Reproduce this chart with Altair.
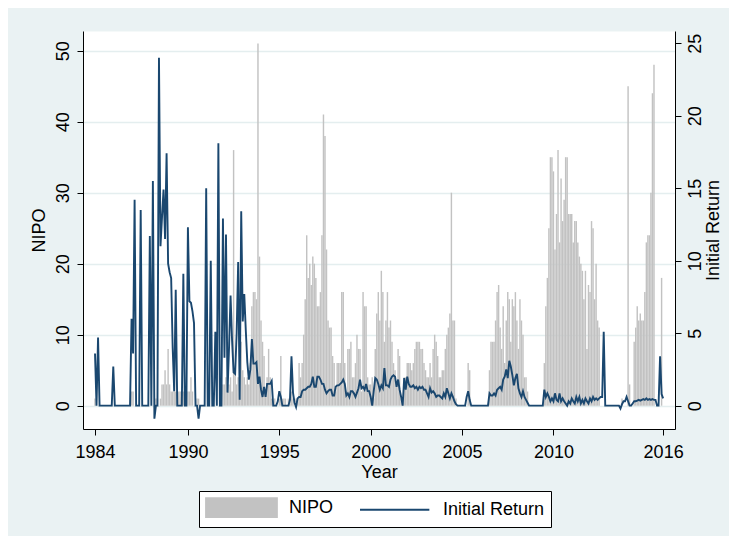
import altair as alt
import pandas as pd

FONT = "Liberation Sans, Arial, sans-serif"

# Monthly series, first value = Dec 1984, last value = Jan 2016
nipo = [
    1, 0, 0, 0, 0, 0, 0, 0, 0, 0, 0, 0,
    0, 0, 0, 0, 0, 0, 0, 0, 0, 0, 0, 0,
    2, 2, 0, 0, 0, 0, 0, 0, 0, 0, 0, 0,
    0, 0, 0, 0, 1, 1, 0, 1, 3, 3, 5, 3,
    8, 3, 2, 2, 3, 2, 2, 2, 2, 2, 2, 2,
    2, 2, 2, 4, 2, 0, 0, 1, 1, 0, 0, 0,
    0, 0, 0, 0, 0, 0, 0, 0, 0, 0, 1, 2,
    3, 3, 4, 3, 3, 4, 2, 36, 5, 3, 4, 1,
    9, 5, 4, 3, 4, 3, 6, 14, 16, 16, 15, 51,
    21, 12, 9, 7, 2, 4, 8, 4, 1, 0, 1, 0,
    0, 1, 7, 1, 1, 1, 0, 1, 1, 2, 1, 0,
    1, 1, 6, 4, 6, 10, 15, 24, 18, 20, 17, 21,
    20, 18, 14, 14, 16, 24, 41, 38, 22, 12, 11, 11,
    7, 6, 2, 6, 6, 6, 16, 16, 6, 2, 8, 8,
    9, 4, 4, 6, 10, 8, 8, 2, 16, 14, 14, 4,
    3, 3, 4, 1, 8, 13, 16, 12, 19, 16, 9, 12,
    16, 11, 12, 9, 6, 5, 3, 8, 7, 1, 1, 4,
    4, 6, 6, 6, 5, 6, 8, 9, 9, 9, 8, 8,
    6, 5, 4, 4, 6, 4, 8, 10, 9, 7, 4, 4,
    5, 5, 8, 10, 11, 13, 30, 12, 12, 1, 0, 0,
    0, 0, 0, 0, 0, 6, 5, 0, 0, 0, 0, 0,
    0, 0, 0, 0, 0, 0, 0, 5, 9, 9, 9, 12,
    16, 17, 11, 8, 14, 6, 12, 16, 15, 9, 15, 14,
    16, 12, 8, 15, 12, 10, 4, 4, 2, 0, 0, 0,
    0, 0, 0, 0, 0, 0, 0, 6, 14, 18, 25, 35,
    35, 33, 22, 27, 36, 23, 32, 26, 29, 35, 35, 27,
    27, 27, 23, 26, 26, 23, 21, 20, 19, 15, 19, 8,
    17, 16, 26, 25, 15, 20, 12, 11, 0, 0, 0, 0,
    0, 0, 0, 0, 0, 0, 0, 0, 0, 0, 1, 0,
    0, 0, 45, 3, 0, 0, 9, 11, 14, 12, 13, 12,
    12, 16, 23, 24, 24, 30, 44, 48, 0, 0, 0, 0,
    18, 0,
]

initial_return = [
    3.6, 0, 4.7, 0, 0, 0, 0, 0, 0, 0, 0, 0,
    2.7, 0, 0, 0, 0, 0, 0, 0, 0, 0, 0, 0,
    6.0, 3.6, 14.2, 0, 0, 0, 13.5, 0, 0, 0, 0, 0,
    11.7, 0, 15.5, -0.9, 0, 0, 24.0, 11.0, 13.0, 14.9, 11.5, 17.4,
    9.8, 9.2, 8.8, 4.0, 1.0, 8.0, 0, 0, 0, 0, 9.1, 0,
    0, 12.3, 7.2, 7.1, 6.5, 5.7, 0, 0, -0.9, 0, 0, 0,
    0, 15.0, 0, 0, 10.0, 0, 0, 5.1, 0, 18.1, 0, 0,
    12.9, 3.3, 11.8, 0.9, 4.0, 7.6, 4.5, 2.3, 2.2, 5.0, 9.9, 0.4,
    13.4, 5.8, 7.7, 5.2, 3.0, 1.8, 2.5, 4.6, 2.9, 2.9, 3.0, 1.5,
    2.0, 1.1, 0.6, 1.3, 0.6, 1.5, 1.5, 1.5, 1.7, 0, 0, 0,
    0.3, 1.0, 0.6, 0, 0, 0, 0, 0, 0.4, 3.4, 0.9, 0.2,
    -0.1, 0.5, 0.6, 0.6, 1.0, 1.1, 1.1, 1.2, 1.3, 1.3, 1.5, 2.0,
    1.3, 1.3, 2.0, 2.0, 1.8, 1.5, 1.5, 1.1, 0.85, 1.0, 1.1, 1.1,
    0.7, 0.7, 1.3, 1.4, 1.4, 1.5, 1.6, 1.8, 1.5, 0.7, 0.85, 0.6,
    1.0, 1.0, 0.85, 0.6, 0.9, 1.2, 1.8, 1.2, 1.3, 1.1, 1.5, 1.0,
    1.0, 0.6, 0, 1.0, 1.9, 1.8, 1.5, 1.1, 1.4, 1.2, 2.6, 1.4,
    1.4, 1.3, 1.8, 2.0, 2.1, 2.0, 1.3, 1.8, 1.1, 0.6, 0, 1.9,
    1.1, 2.0, 1.5, 1.3, 1.3, 1.4, 1.2, 1.3, 1.1, 1.3, 1.2, 1.3,
    1.1, 1.1, 0.85, 0.6, 1.2, 0.9, 1.0, 0.85, 0.6, 0.7, 0.7, 0.6,
    0.5, 0.85, 0.6, 1.2, 0.85, 0.5, 0.85, 0.6, 0.3, 0.1, 0, 0,
    0, 0, 0, 0, 0.6, 1.0, 0.4, 0, 0, 0, 0, 0,
    0, 0, 0, 0, 0, 0, 0, 0.85, 0.7, 0.7, 0.85, 0.7,
    1.1, 1.2, 1.3, 1.1, 1.8, 2.0, 2.5, 1.9, 3.1, 2.7, 2.1, 1.4,
    1.9, 2.2, 1.2, 0.85, 0.6, 1.0, 0.6, 0.4, 0.2, 0, 0, 0,
    0, 0, 0, 0, 0, 0, 0, 1.1, 0.6, 0.85, 0.6, 0.3,
    0.5, 0.3, 0.85, 0.4, 0.3, 0.85, 0.3, 0.5, 0.3, 0.15, 0, 0.3,
    0.15, 0.5, 0.3, 0.15, 0.6, 0.3, 0.6, 0.15, 0.4, 0.15, 0.5, 0.3,
    0.15, 0.5, 0.3, 0.6, 0.4, 0.5, 0.4, 0.5, 0.6, 0.6, 5.1, 0,
    0, 0, 0, 0, 0, 0, 0, 0, 0, -0.2, 0.1, 0.3,
    0.3, 0.6, 0.3, 0, 0, 0.15, 0.3, 0.3, 0.35, 0.4, 0.35, 0.4,
    0.45, 0.4, 0.5, 0.4, 0.45, 0.4, 0.45, 0.4, 0.4, 0, 0, 3.4,
    0.8, 0.5,
]

x_ticks = [1984 + 11 / 12, 1990, 1995, 2000, 2005, 2010, 2016]
nipo_ticks = [0, 10, 20, 30, 40, 50]
ir_ticks = [0, 5, 10, 15, 20, 25]
series_names = ["NIPO", "Initial Return"]
series_colors = ["#C2C2C2", "#1A476F"]

n = min(len(nipo), len(initial_return))
start = 1984 + 11 / 12
df = pd.DataFrame({
    "t": [start + i / 12 for i in range(n)],
    "NIPO": nipo[:n],
    "IR": initial_return[:n],
})

x_scale = alt.Scale(domain=[1984.26, 2016.65], nice=False, zero=False)
color_scale = alt.Scale(domain=series_names, range=series_colors)

legend = alt.Legend(
    title=None, orient="none", legendX=116, legendY=460, direction="horizontal",
    labelFont=FONT, labelFontSize=18, labelColor="black",
    symbolSize=361,
    symbolType=alt.ExprRef(expr="datum.value === 'NIPO' ? 'M-1,-1H6.47V1H-1Z' : 'M-1,0H6.3'"),
    symbolFillColor=alt.ExprRef(expr="datum.value === 'NIPO' ? '#C8C8C8' : 'transparent'"),
    symbolStrokeColor=alt.ExprRef(expr="datum.value === 'NIPO' ? 'transparent' : '#1A476F'"),
    symbolStrokeWidth=1.8, symbolOpacity=1,
    strokeColor="black", fillColor="white", padding=6,
    columnPadding=22, labelOffset=63, cornerRadius=0,
)

x_axis = alt.Axis(
    values=x_ticks, labelExpr="toString(floor(datum.value))", title="Year",
    tickSize=6, labelPadding=8, titlePadding=2, labelFlush=False, grid=False,
)

bars = alt.Chart(df).transform_calculate(
    t0="datum.t - 0.47/12", t1="datum.t + 0.47/12", series="'NIPO'"
).mark_rect(strokeWidth=0).encode(
    x=alt.X("t0:Q", scale=x_scale, axis=x_axis),
    x2="t1:Q",
    y=alt.Y("NIPO:Q", scale=alt.Scale(domain=[-3.28, 52.77], nice=False, zero=False),
            axis=alt.Axis(values=nipo_ticks, title="NIPO", orient="left",
                          labelAngle=270, labelAlign="center", labelBaseline="bottom",
                          titleAngle=270, titleBaseline="bottom",
                          tickSize=6, labelPadding=5, titlePadding=6,
                          grid=True, gridColor="#E4EEEF", gridWidth=1.5)),
    y2=alt.datum(0),
    color=alt.Color("series:N", scale=color_scale, legend=legend),
)

line = alt.Chart(df).transform_calculate(series="'Initial Return'").mark_line(
    strokeWidth=1.9, interpolate="linear"
).encode(
    x=alt.X("t:Q", scale=x_scale),
    y=alt.Y("IR:Q", scale=alt.Scale(domain=[-1.61, 25.84], nice=False, zero=False),
            axis=alt.Axis(values=ir_ticks, title="Initial Return", orient="right",
                          labelAngle=270, labelAlign="center", labelBaseline="top",
                          titleAngle=270, titleBaseline="top",
                          tickSize=6, labelPadding=5, titlePadding=0, grid=False)),
    color=alt.Color("series:N", scale=color_scale, legend=legend),
)

chart = alt.layer(bars, line).resolve_scale(y="independent").properties(
    width=592, height=398,
    autosize=alt.AutoSizeParams(type="none"),
    padding={"left": 75, "top": 23, "right": 54, "bottom": 107},
    background="#EAF2F3",
).configure_view(
    fill="white", stroke="transparent"
).configure_axis(
    labelFont=FONT, titleFont=FONT, labelFontSize=18, titleFontSize=18,
    labelColor="black", titleColor="black", titleFontWeight="normal",
    domainColor="black", tickColor="black", domainWidth=1, tickWidth=1,
)

chart.save("out.html", embed_options={"renderer": "svg", "actions": False})
